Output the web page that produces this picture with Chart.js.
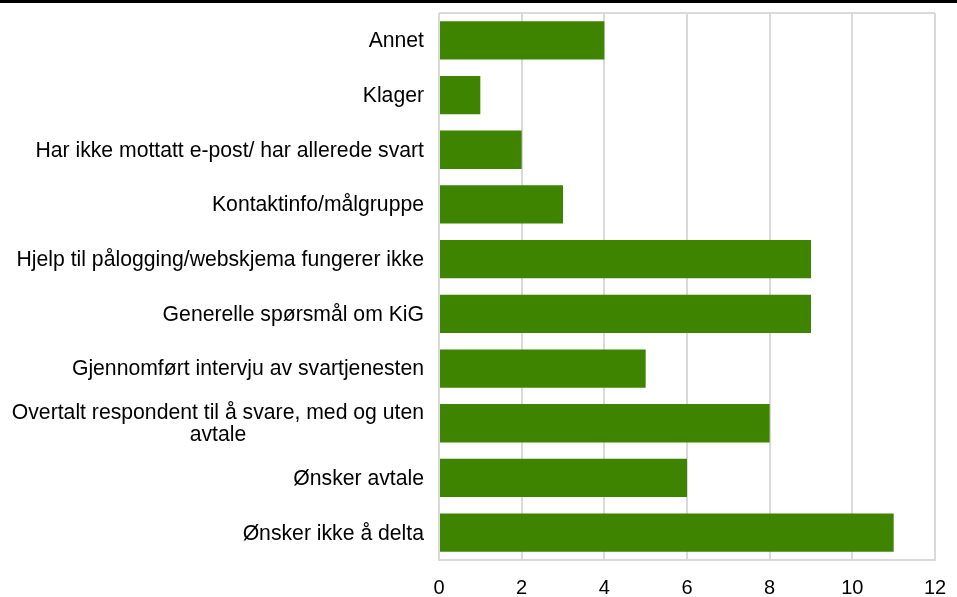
<!DOCTYPE html>
<html>
<head>
<meta charset="utf-8">
<script src="https://cdn.jsdelivr.net/npm/chart.js@4/dist/chart.umd.min.js"></script>
<style>
  html, body { margin: 0; padding: 0; background: #fff; }
  #wrap { position: relative; width: 957px; height: 597px; }
  #topline { position: absolute; left: 0; top: 0; width: 957px; height: 3px; background: #000; }
</style>
</head>
<body>
<div id="wrap">
  <canvas id="chart" width="957" height="597"></canvas>
  <div id="topline"></div>
</div>
<script>
const categories = [
    'Annet',
    'Klager',
    'Har ikke mottatt e-post/ har allerede svart',
    'Kontaktinfo/målgruppe',
    'Hjelp til pålogging/webskjema fungerer ikke',
    'Generelle spørsmål om KiG',
    'Gjennomført intervju av svartjenesten',
    ['Overtalt respondent til å svare, med og uten', 'avtale'],
    'Ønsker avtale',
    'Ønsker ikke å delta'
];
const counts = [4, 1, 2, 3, 9, 9, 5, 8, 6, 11];
const xTicks = [0, 2, 4, 6, 8, 10, 12];

const FONT = '21.2px "Liberation Sans", Arial, sans-serif';

// draws category labels Excel-style: block right-aligned, lines centred inside block
const categoryLabels = {
    id: 'categoryLabels',
    afterDraw(chart) {
        const c = chart.ctx;
        const y = chart.scales.y;
        const right = y.right - 15;
        c.save();
        c.font = FONT;
        c.fillStyle = '#000';
        c.textBaseline = 'middle';
        c.textAlign = 'center';
        categories.forEach((lab, i) => {
            const lines = Array.isArray(lab) ? lab : [lab];
            const w = Math.max(...lines.map(l => c.measureText(l).width));
            const cx = right - w / 2;
            const lh = 22;
            const yc = y.getPixelForTick(i) + 1;
            lines.forEach((l, j) => {
                c.fillText(l, cx, yc + (j - (lines.length - 1) / 2) * lh);
            });
        });
        c.restore();
    }
};

new Chart(document.getElementById('chart'), {
    type: 'bar',
    data: {
        labels: categories,
        datasets: [{
            data: counts,
            backgroundColor: '#3f8400',
            borderWidth: 0,
            barPercentage: 0.7,
            categoryPercentage: 1.0
        }]
    },
    options: {
        indexAxis: 'y',
        responsive: false,
        animation: false,
        layout: { padding: { top: 13, right: 22, left: 0, bottom: 0 } },
        plugins: { legend: { display: false }, tooltip: { enabled: false } },
        scales: {
            x: {
                min: 0,
                max: 12,
                afterBuildTicks(scale) { scale.ticks = xTicks.map(v => ({ value: v })); },
                afterFit(scale) {
                    scale.height = 37;
                    scale.paddingLeft = 0;
                    scale.paddingRight = 0;
                },
                grid: { color: '#d9d9d9', lineWidth: 2, drawTicks: false },
                border: { color: '#d9d9d9', width: 2 },
                ticks: { color: '#000', font: { family: '"Liberation Sans", Arial, sans-serif', size: 20 }, padding: 16 }
            },
            y: {
                afterFit(scale) { scale.width = 439; },
                grid: { display: false, drawTicks: false },
                border: { display: false },
                ticks: { display: false }
            }
        }
    },
    plugins: [categoryLabels, {
        id: 'frame',
        afterDatasetsDraw(chart) {
            const a = chart.chartArea;
            const c = chart.ctx;
            c.save();
            c.strokeStyle = '#d9d9d9';
            c.lineWidth = 2;
            c.beginPath();
            c.moveTo(a.left, a.top);
            c.lineTo(a.right, a.top);
            c.moveTo(a.left, a.top);
            c.lineTo(a.left, a.bottom);
            c.stroke();
            c.restore();
        }
    }]
});
</script>
</body>
</html>
